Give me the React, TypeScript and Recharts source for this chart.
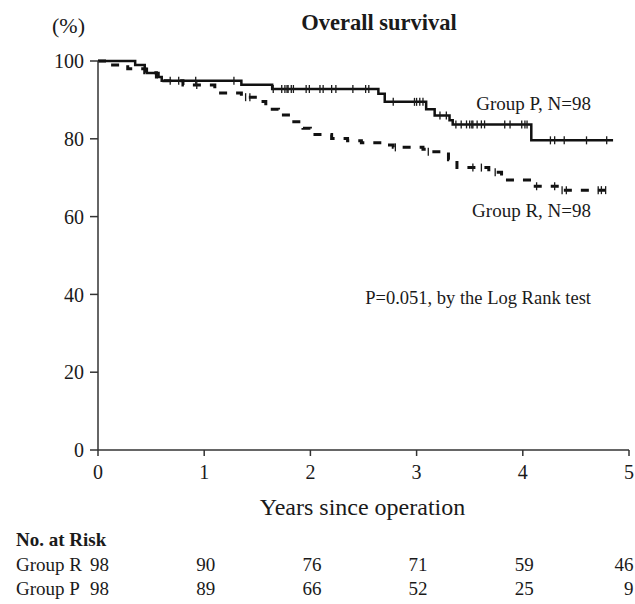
import React from 'react';
import { ComposedChart, Line, Scatter, XAxis, YAxis } from 'recharts';

// Kaplan-Meier steps (years, % surviving)
const groupPTimes = [0, 0.35, 0.44, 0.46, 0.57, 0.6, 1.35, 1.64, 2.64, 2.7, 3.09, 3.17, 3.31, 3.34, 4.08, 4.85];
const groupPSurv = [100, 99.0, 98.0, 96.9, 95.9, 94.9, 93.9, 92.8, 91.6, 89.5, 87.6, 86.0, 84.8, 83.7, 79.6, 79.6];

const groupRTimes = [0, 0.12, 0.28, 0.44, 0.55, 0.62, 0.8, 1.1, 1.35, 1.52, 1.58, 1.7, 1.82, 1.93, 2.0, 2.2, 2.35, 2.48, 2.7, 2.78, 3.06, 3.1, 3.3, 3.38, 3.68, 3.8, 4.1, 4.35, 4.85];
const groupRSurv = [100, 99.0, 98.0, 97.0, 95.9, 94.9, 93.8, 91.8, 90.7, 89.6, 87.6, 86.1, 84.4, 82.7, 81.1, 80.1, 79.5, 79.0, 78.4, 77.8, 77.3, 76.7, 74.6, 72.6, 71.4, 69.4, 67.8, 66.8, 66.8];

// censored observations (tick marks)
const groupPCensored = [0.68, 0.76, 0.92, 1.28, 1.65, 1.73, 1.76, 1.78, 1.79, 1.82, 1.84, 1.96, 1.99, 2.09, 2.12, 2.2, 2.24, 2.4, 2.52, 2.55, 2.78, 2.98, 3.0, 3.03, 3.06, 3.22, 3.28, 3.37, 3.42, 3.47, 3.5, 3.52, 3.53, 3.57, 3.61, 3.64, 3.83, 3.88, 3.99, 4.02, 4.04, 4.26, 4.3, 4.39, 4.6, 4.79];
const groupRCensored = [0.93, 1.39, 1.43, 2.8, 3.11, 3.53, 3.61, 3.74, 4.13, 4.3, 4.37, 4.41, 4.71, 4.74, 4.78];

const xTicks = [0, 1, 2, 3, 4, 5];
const yTicks = [0, 20, 40, 60, 80, 100];

const riskR = [98, 90, 76, 71, 59, 46];
const riskP = [98, 89, 66, 52, 25, 9];

const W = 635;
const H = 604;
const PLOT_LEFT = 98;
const PLOT_RIGHT = 629;
const PLOT_TOP = 61;
const PLOT_BOTTOM = 450;
const FONT = '"Liberation Serif", "Times New Roman", serif';
const INK = '#1a1a1a';

const toSteps = (times: number[], surv: number[]) =>
  times.map((t, i) => ({ t, s: surv[i] }));

// level of the step curve at time t
const levelAt = (times: number[], surv: number[], t: number) => {
  let v = surv[0];
  for (let i = 0; i < times.length; i++) {
    if (times[i] <= t) v = surv[i];
  }
  return v;
};

const pData = toSteps(groupPTimes, groupPSurv);
const rData = toSteps(groupRTimes, groupRSurv);
const pCens = groupPCensored.map(t => ({ t, s: levelAt(groupPTimes, groupPSurv, t) }));
const rCens = groupRCensored.map(t => ({ t, s: levelAt(groupRTimes, groupRSurv, t) }));

const CensorTick = (props: any) => {
  const { cx, cy } = props;
  if (cx == null || cy == null) return null;
  return <line x1={cx} x2={cx} y1={cy - 4} y2={cy + 4} stroke={INK} strokeWidth={1.3} />;
};

const colX = (i: number) => PLOT_LEFT + (i * (PLOT_RIGHT - PLOT_LEFT)) / 5;

const ROW_R = 570.5;
const ROW_P = 595;

export default function App() {
  const tickStyle = { fontSize: 20, fontFamily: FONT, fill: INK };

  return (
    <div style={{ position: 'relative', width: W, height: H, background: '#fff' }}>
      <style>{'body{margin:0;background:#fff}'}</style>
      <ComposedChart
        width={W}
        height={H}
        margin={{ top: PLOT_TOP, right: W - PLOT_RIGHT, bottom: 0, left: 0 }}
      >
        <XAxis
          type="number"
          dataKey="t"
          domain={[0, 5]}
          ticks={xTicks}
          allowDataOverflow
          height={H - PLOT_BOTTOM}
          tickSize={6}
          tickMargin={9}
          tick={tickStyle}
          stroke="#333"
          strokeWidth={1.5}
        />
        <YAxis
          type="number"
          dataKey="s"
          domain={[0, 100]}
          ticks={yTicks}
          width={PLOT_LEFT}
          tickSize={8}
          tickMargin={6}
          tick={tickStyle}
          stroke="#333"
          strokeWidth={1.5}
        />
        <Line
          data={rData}
          dataKey="s"
          type="stepAfter"
          stroke="#111"
          strokeWidth={3}
          strokeDasharray="8 9"
          dot={false}
          isAnimationActive={false}
        />
        <Line
          data={pData}
          dataKey="s"
          type="stepAfter"
          stroke="#111"
          strokeWidth={2.5}
          dot={false}
          isAnimationActive={false}
        />
        <Scatter data={rCens} dataKey="s" shape={<CensorTick />} isAnimationActive={false} />
        <Scatter data={pCens} dataKey="s" shape={<CensorTick />} isAnimationActive={false} />
      </ComposedChart>

      <svg
        width={W}
        height={H}
        style={{ position: 'absolute', left: 0, top: 0, pointerEvents: 'none' }}
        fontFamily={FONT}
        fill={INK}
      >
        <text x={52} y={33} fontSize={22}>(%)</text>
        <text x={379} y={30} fontSize={22.5} fontWeight="bold" textAnchor="middle">Overall survival</text>
        <text x={591} y={109.5} fontSize={19} textAnchor="end">Group P, N=98</text>
        <text x={591} y={217} fontSize={19} textAnchor="end">Group R, N=98</text>
        <text x={591} y={304} fontSize={18.5} textAnchor="end">P=0.051, by the Log Rank test</text>
        <text x={362.5} y={515} fontSize={24} textAnchor="middle">Years since operation</text>

        <text x={16} y={545.5} fontSize={19} fontWeight="bold">No. at Risk</text>
        <text x={16} y={ROW_R} fontSize={19}>Group R</text>
        <text x={16} y={ROW_P} fontSize={19}>Group P</text>
        {riskR.map((v, i) => (
          <text
            key={'r' + i}
            x={i === 5 ? 633.5 : colX(i) + 1.5}
            y={ROW_R}
            fontSize={19}
            textAnchor={i === 5 ? 'end' : 'middle'}
          >
            {v}
          </text>
        ))}
        {riskP.map((v, i) => (
          <text
            key={'p' + i}
            x={i === 5 ? 633.5 : colX(i) + 1.5}
            y={ROW_P}
            fontSize={19}
            textAnchor={i === 5 ? 'end' : 'middle'}
          >
            {v}
          </text>
        ))}
      </svg>
    </div>
  );
}
